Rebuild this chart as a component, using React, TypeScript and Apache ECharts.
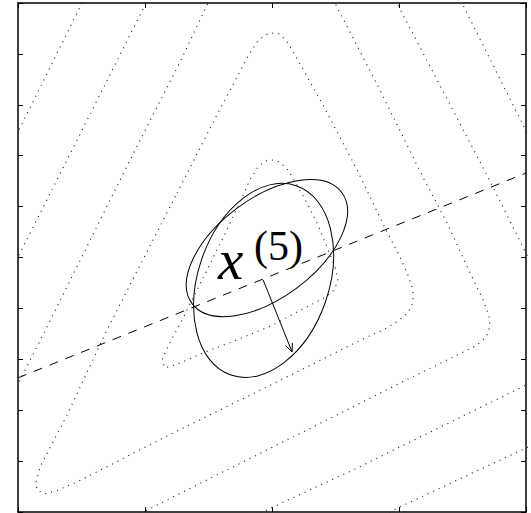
import { useEffect, useRef } from "react";
import * as echarts from "echarts";

// axis ranges (data units)
const xMin = -1;
const xMax = 1;
const xStep = 0.5;
const yMin = -1;
const yMax = 1;
const yStep = 0.2;

// dotted level sets
const contour1: number[][] = [
  [-0.272, -0.081], [-0.193, 0.077], [-0.126, 0.218], [-0.087, 0.305], [-0.055, 0.356],
  [-0.028, 0.379], [0, 0.383], [0.031, 0.375], [0.063, 0.344], [0.098, 0.285],
  [0.138, 0.214], [0.181, 0.128], [0.22, 0.033], [0.248, -0.037], [0.26, -0.084],
  [0.248, -0.124], [0.213, -0.155], [0.122, -0.202], [0.004, -0.265], [-0.138, -0.324],
  [-0.272, -0.375], [-0.37, -0.418], [-0.421, -0.434], [-0.433, -0.403], [-0.409, -0.348],
  [-0.35, -0.238], [-0.272, -0.081],
];
const contour2: number[][] = [
  [-0.374, 0.253], [-0.217, 0.56], [-0.098, 0.784], [-0.059, 0.847], [-0.028, 0.874],
  [0, 0.882], [0.031, 0.878], [0.063, 0.843], [0.102, 0.776], [0.201, 0.599],
  [0.335, 0.344], [0.445, 0.116], [0.504, 0.002], [0.535, -0.069], [0.555, -0.128],
  [0.555, -0.175], [0.535, -0.218], [0.496, -0.25], [0.437, -0.285], [0.366, -0.316],
  [0.098, -0.45], [-0.39, -0.69], [-0.768, -0.882], [-0.843, -0.914], [-0.894, -0.929],
  [-0.925, -0.914], [-0.929, -0.882], [-0.913, -0.823], [-0.807, -0.619], [-0.65, -0.285],
  [-0.374, 0.253],
];
const contour3: number[][] = [
  [-1.5, -1.495], [-0.992, -0.481], [-0.902, -0.305], [-0.559, 0.383], [-0.362, 0.768],
  [-0.252, 1.0], [-0.008, 1.483], [0.248, 1.0], [0.425, 0.658], [0.594, 0.316],
  [0.689, 0.136], [0.78, -0.061], [0.831, -0.167], [0.854, -0.226], [0.858, -0.273],
  [0.843, -0.312], [0.807, -0.344], [0.689, -0.403], [0.504, -0.493], [0.319, -0.587],
  [-0.39, -0.941], [-0.677, -1.086], [-1.5, -1.495],
];
const contour4: number[][] = [
  [-1.307, -1.739], [-1.307, -0.607], [-0.992, 0.018], [-0.807, 0.383], [-0.5, 0.992],
  [-0.008, 1.963], [0.5, 0.984], [0.846, 0.324], [1.209, -0.399], [0.984, -0.509],
  [0.319, -0.835], [0.004, -0.98], [-0.48, -1.228], [-1.307, -1.739],
];
const contour5: number[][] = [
  [-1.465, -0.442], [-0.988, 0.517], [-0.748, 1.0], [-0.008, 2.466], [0.752, 0.992],
  [0.988, 0.521], [1.508, -0.513], [0.984, -0.756], [0.504, -0.98], [0.11, -1.189],
  [-1.465, -1.739], [-1.465, -0.442],
];

// dashed search line
const dashedLine: number[][] = [[-1.0, -0.473], [1.0, 0.332]];

// ellipses: [cx, cy, semi-major, semi-minor, angle deg]
const ellipses: number[][] = [
  [-0.02, 0.037, 0.367, 0.196, 36.6],
  [-0.033, -0.09, 0.394, 0.257, 71],
];

// arrow: [x0, y0, x1, y1]
const arrows: number[][] = [[-0.035, -0.088, 0.079, -0.371]];

const labelBase = "x";
const labelSup = "(5)";

const SERIF = "Liberation Serif, Times New Roman, DejaVu Serif, serif";

export default function App() {
  const ref = useRef<HTMLDivElement>(null);

  useEffect(() => {
    if (!ref.current) return;
    const chart = echarts.init(ref.current, null, { renderer: "svg" });

    const contourStyle = { color: "#222", width: 1.1, type: [1.1, 5] as number[] };
    const contourSeries = [contour1, contour2, contour3, contour4, contour5].map((d) => ({
      type: "line",
      data: d,
      symbol: "none",
      showSymbol: false,
      smooth: false,
      clip: true,
      silent: true,
      lineStyle: contourStyle,
      z: 1,
    }));

    const axisLine = { show: true, onZero: false, lineStyle: { color: "#000", width: 1.5 } };
    const axisTick = { show: true, inside: true, length: 5, lineStyle: { color: "#000", width: 1 } };
    const xAxisBase = {
      type: "value",
      min: xMin,
      max: xMax,
      interval: xStep,
      axisLine,
      axisTick,
      axisLabel: { show: false },
      splitLine: { show: false },
    };
    const yAxisBase = {
      type: "value",
      min: yMin,
      max: yMax,
      interval: yStep,
      axisLine,
      axisTick,
      axisLabel: { show: false },
      splitLine: { show: false },
    };

    chart.setOption({
      animation: false,
      backgroundColor: "#fff",
      textStyle: { fontFamily: SERIF },
      grid: { left: 18, top: 3, width: 508, height: 509, containLabel: false },
      xAxis: [
        { ...xAxisBase, position: "bottom" },
        { ...xAxisBase, position: "top" },
      ],
      yAxis: [
        { ...yAxisBase, position: "left" },
        { ...yAxisBase, position: "right" },
      ],
      series: [
        ...contourSeries,
        {
          type: "line",
          data: dashedLine,
          symbol: "none",
          showSymbol: false,
          silent: true,
          lineStyle: { color: "#000", width: 1, type: [9, 8] },
          z: 2,
        },
        {
          type: "custom",
          data: ellipses,
          dimensions: ["cx", "cy", "a", "b", "ang"],
          encode: { x: 0, y: 1 },
          silent: true,
          z: 3,
          renderItem: (_params: any, api: any) => {
            const c = api.coord([api.value(0), api.value(1)]);
            const rx = api.size([api.value(2), 0])[0];
            const ry = api.size([0, api.value(3)])[1];
            return {
              type: "ellipse",
              x: c[0],
              y: c[1],
              rotation: (api.value(4) * Math.PI) / 180,
              shape: { cx: 0, cy: 0, rx, ry },
              style: { fill: "none", stroke: "#000", lineWidth: 1 },
            };
          },
        },
        {
          type: "custom",
          data: arrows,
          dimensions: ["x0", "y0", "x1", "y1"],
          encode: { x: [0, 2], y: [1, 3] },
          silent: true,
          z: 4,
          renderItem: (_params: any, api: any) => {
            const p0 = api.coord([api.value(0), api.value(1)]);
            const p1 = api.coord([api.value(2), api.value(3)]);
            const ang = Math.atan2(p1[1] - p0[1], p1[0] - p0[0]);
            const L = 9;
            const sp = 0.42;
            const h1 = [p1[0] - L * Math.cos(ang - sp), p1[1] - L * Math.sin(ang - sp)];
            const h2 = [p1[0] - L * Math.cos(ang + sp), p1[1] - L * Math.sin(ang + sp)];
            return {
              type: "group",
              children: [
                {
                  type: "line",
                  shape: { x1: p0[0], y1: p0[1], x2: p1[0], y2: p1[1] },
                  style: { stroke: "#000", lineWidth: 1 },
                },
                {
                  type: "polyline",
                  shape: { points: [h1, p1, h2] },
                  style: { stroke: "#000", fill: "none", lineWidth: 1 },
                },
              ],
            };
          },
        },
      ],
      graphic: [
        {
          type: "text",
          x: 218,
          y: 259,
          z: 10,
          style: {
            text: labelBase,
            fontFamily: SERIF,
            fontStyle: "italic",
            fontSize: 57,
            fill: "#000",
            textAlign: "left",
            textVerticalAlign: "middle",
          },
        },
        {
          type: "text",
          x: 254,
          y: 246,
          z: 10,
          style: {
            text: labelSup,
            fontFamily: SERIF,
            fontSize: 42,
            fill: "#000",
            textAlign: "left",
            textVerticalAlign: "middle",
          },
        },
      ],
    });

    return () => chart.dispose();
  }, []);

  return (
    <div
      ref={ref}
      style={{ position: "fixed", left: 0, top: 0, width: 531, height: 513, background: "#fff" }}
    />
  );
}
